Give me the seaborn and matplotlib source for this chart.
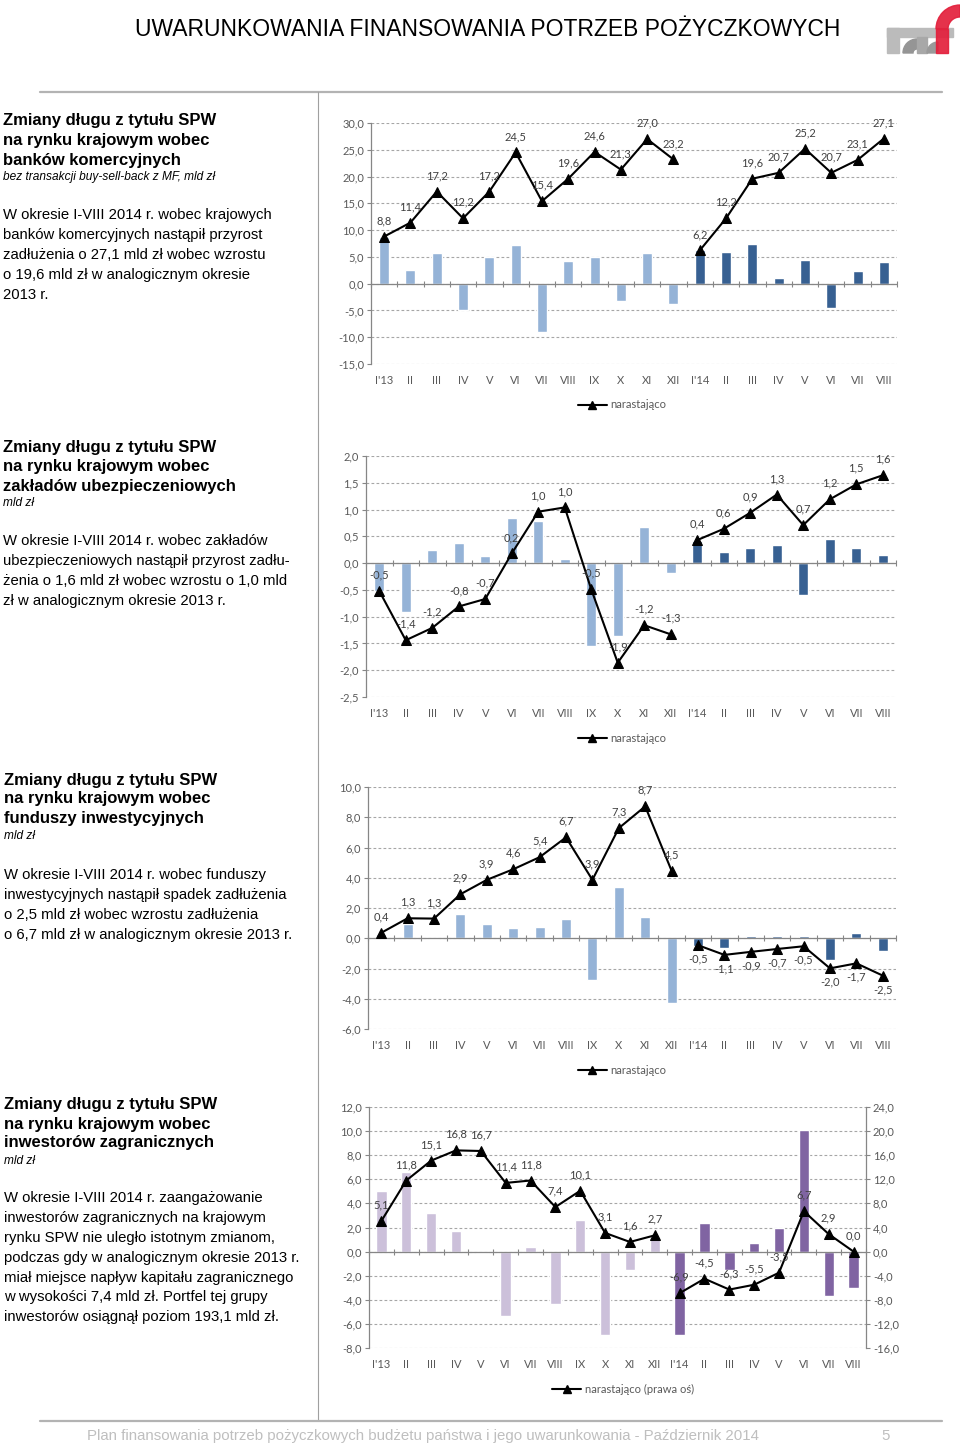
import numpy as np
import pandas as pd
import seaborn as sns
import matplotlib.pyplot as plt
from matplotlib.lines import Line2D
from matplotlib.patches import Rectangle, Wedge
from matplotlib.ticker import FuncFormatter, MultipleLocator

W, H = 960, 1445

months = ["I'13", "II", "III", "IV", "V", "VI", "VII", "VIII", "IX", "X", "XI", "XII",
          "I'14", "II", "III", "IV", "V", "VI", "VII", "VIII"]

# banki komercyjne
banks_m13 = [8.8, 2.6, 5.8, -5.0, 5.0, 7.3, -9.1, 4.2, 5.0, -3.3, 5.7, -3.8]
banks_m14 = [6.2, 6.0, 7.4, 1.1, 4.5, -4.5, 2.4, 4.0]
banks_c13 = [8.8, 11.4, 17.2, 12.2, 17.2, 24.5, 15.4, 19.6, 24.6, 21.3, 27.0, 23.2]
banks_c14 = [6.2, 12.2, 19.6, 20.7, 25.2, 20.7, 23.1, 27.1]

# zaklady ubezpieczeniowe
ins_m13 = [-0.53, -0.91, 0.24, 0.38, 0.13, 0.84, 0.79, 0.08, -1.55, -1.37, 0.67, -0.18]
ins_m14 = [0.42, 0.21, 0.29, 0.34, -0.59, 0.45, 0.28, 0.16]
ins_c13 = [-0.52, -1.44, -1.21, -0.81, -0.67, 0.18, 0.96, 1.04, -0.49, -1.86, -1.16, -1.33]
ins_c14 = [0.43, 0.64, 0.94, 1.28, 0.71, 1.19, 1.47, 1.64]

# fundusze inwestycyjne
inv_m13 = [0.31, 0.95, -0.05, 1.61, 0.95, 0.68, 0.77, 1.26, -2.78, 3.40, 1.43, -4.26]
inv_m14 = [-0.49, -0.62, 0.18, 0.18, 0.18, -1.43, 0.33, -0.82]
inv_c13 = [0.36, 1.32, 1.30, 2.91, 3.86, 4.56, 5.36, 6.67, 3.86, 7.28, 8.72, 4.46]
inv_c14 = [-0.46, -1.10, -0.90, -0.71, -0.53, -1.99, -1.66, -2.47]

# inwestorzy zagraniczni
for_m13 = [5.06, 6.63, 3.18, 1.74, -0.14, -5.33, 0.36, -4.31, 2.62, -6.93, -1.49, 1.05]
for_m14 = [-6.88, 2.40, -1.55, 0.72, 1.99, 10.11, -3.70, -2.98]
for_c13 = [5.1, 11.8, 15.1, 16.8, 16.7, 11.4, 11.8, 7.4, 10.1, 3.1, 1.6, 2.7]
for_c14 = [-6.9, -4.5, -6.3, -5.5, -3.5, 6.7, 2.9, 0.0]

blues = ["#95B3D7", "#376092"]
purples = ["#CCC0DA", "#8064A2"]

AXC = "#868686"
TXC = "#595959"
FS = 8


def rect(l, t, r, b):
    return [l / W, 1 - b / H, (r - l) / W, (b - t) / H]


def comma(v, _=None):
    return f"{v:.1f}".replace(".", ",")


sns.set_style("white")
plt.rcParams['font.family'] = ['Lato', 'DejaVu Sans']

fig = plt.figure(figsize=(W / 100, H / 100), dpi=100)


def style_y(a, ylim, step, side='left'):
    a.set_ylim(*ylim)
    a.yaxis.set_major_locator(MultipleLocator(step))
    a.yaxis.set_major_formatter(FuncFormatter(comma))
    for s in ['top', 'right', 'bottom', 'left']:
        a.spines[s].set_visible(s == side)
    a.spines[side].set_color(AXC)
    a.spines[side].set_linewidth(0.9)
    a.tick_params(axis='y', length=3, width=0.8, color=AXC, labelcolor=TXC,
                  labelsize=FS, pad=2, left=(side == 'left'), right=(side == 'right'),
                  labelleft=(side == 'left'), labelright=(side == 'right'))
    a.set_ylabel('')


def chart(box, m13, m14, c13, c14, ylim, step, colors, legend_y, legend_x=622,
          below14=False, right=None, label='narastająco', barw=0.38):
    ax = fig.add_axes(rect(*box))
    df = pd.DataFrame({'pos': range(20), 'val': m13 + m14,
                       'rok': ['2013'] * 12 + ['2014'] * 8})
    sns.barplot(data=df, x='pos', y='val', hue='rok', palette=colors, width=barw,
                dodge=False, saturation=1, legend=False, ax=ax)
    ax.set_xlim(-0.5, 19.5)
    style_y(ax, ylim, step)
    ax.grid(axis='y', color='#A6A6A6', ls=(0, (2.5, 2)), lw=0.8)
    ax.set_axisbelow(True)
    ax.axhline(0, color=AXC, lw=0.9, zorder=3)
    ax.plot(np.arange(-0.5, 20), np.zeros(21), ls='none', marker='|', ms=5,
            mew=0.8, color=AXC, clip_on=False, zorder=3)
    ax.set_xticks(range(20))
    ax.set_xticklabels(months)
    ax.tick_params(axis='x', length=0, pad=8, labelsize=FS, labelcolor=TXC)
    ax.set_xlabel('')

    lx = ax
    if right is not None:
        lx = ax.twinx()
        style_y(lx, right[0], right[1], side='right')
        lx.grid(False)
    for xs, ys, below in [(range(12), c13, False), (range(12, 20), c14, below14)]:
        sns.lineplot(x=list(xs), y=ys, color='black', lw=1.5, marker='^', ms=7.5,
                     mec='black', ax=lx, zorder=5)
        for x, y in zip(xs, ys):
            lx.annotate(comma(y), (x, y), textcoords='offset points',
                        xytext=(0, -10 if below else 11.5), ha='center', va='center',
                        fontsize=FS, color='#404040', zorder=6)
    lx.set_xlim(-0.5, 19.5)
    handle = Line2D([], [], color='black', lw=1.5, marker='^', ms=6)
    lx.legend(handles=[handle], labels=[label], loc='center',
              bbox_to_anchor=(legend_x / W, 1 - legend_y / H),
              bbox_transform=fig.transFigure, frameon=False, fontsize=FS,
              handlelength=2.6, handletextpad=0.3, labelcolor=TXC)
    return ax


chart((371, 123, 897, 364), banks_m13, banks_m14, banks_c13, banks_c14,
      (-15, 30), 5, blues, 405)
chart((366, 456, 896, 697), ins_m13, ins_m14, ins_c13, ins_c14,
      (-2.5, 2.0), 0.5, blues, 738)
chart((368, 787, 896, 1029), inv_m13, inv_m14, inv_c13, inv_c14,
      (-6, 10), 2, blues, 1070, below14=True)
chart((369, 1107, 866, 1348), for_m13, for_m14, for_c13, for_c14,
      (-8, 12), 2, purples, 1389, legend_x=623, right=((-16, 24), 4),
      label='narastająco (prawa oś)', barw=0.42)

# tekst po lewej stronie
blocks = [
    (3, [120, 140, 160], ["Zmiany długu z tytułu SPW", "na rynku krajowym wobec", "banków komercyjnych"],
     177, "bez transakcji buy-sell-back z MF, mld zł", 215,
     ["W okresie I-VIII 2014 r. wobec krajowych", "banków komercyjnych nastąpił przyrost",
      "zadłużenia o 27,1 mld zł wobec wzrostu", "o 19,6 mld zł w analogicznym okresie", "2013 r."]),
    (3, [447, 466, 486], ["Zmiany długu z tytułu SPW", "na rynku krajowym wobec", "zakładów ubezpieczeniowych"],
     503, "mld zł", 541,
     ["W okresie I-VIII 2014 r. wobec zakładów", "ubezpieczeniowych nastąpił przyrost zadłu-",
      "żenia o 1,6 mld zł wobec wzrostu o 1,0 mld", "zł w analogicznym okresie 2013 r."]),
    (4, [780, 799, 819], ["Zmiany długu z tytułu SPW", "na rynku krajowym wobec", "funduszy inwestycyjnych"],
     836, "mld zł", 875,
     ["W okresie I-VIII 2014 r. wobec funduszy", "inwestycyjnych nastąpił spadek zadłużenia",
      "o 2,5 mld zł wobec wzrostu zadłużenia", "o 6,7 mld zł w analogicznym okresie 2013 r."]),
    (4, [1104, 1124, 1143], ["Zmiany długu z tytułu SPW", "na rynku krajowym wobec", "inwestorów zagranicznych"],
     1161, "mld zł", 1198,
     ["W okresie I-VIII 2014 r. zaangażowanie", "inwestorów zagranicznych na krajowym",
      "rynku SPW nie uległo istotnym zmianom,", "podczas gdy w analogicznym okresie 2013 r.",
      "miał miejsce napływ kapitału zagranicznego", "w wysokości 7,4 mld zł. Portfel tej grupy",
      "inwestorów osiągnął poziom 193,1 mld zł."]),
]
for x0, hy, heads, sy, sub, by, body in blocks:
    for y, s in zip(hy, heads):
        fig.text(x0 / W, 1 - y / H, s, ha='left', va='center', fontsize=12,
                 fontweight='bold', family='Liberation Sans', color='black')
    fig.text(x0 / W, 1 - sy / H, sub, ha='left', va='center', fontsize=8.6,
             style='italic', family='Liberation Sans', color='black')
    for k, s in enumerate(body):
        fig.text(x0 / W, 1 - (by + 19.9 * k) / H, s, ha='left', va='center',
                 fontsize=10.7, family='Liberation Sans', color='black')

# naglowek, linie, stopka
fig.text(488 / W, 1 - 30 / H, "UWARUNKOWANIA FINANSOWANIA POTRZEB POŻYCZKOWYCH",
         ha='center', va='center', fontsize=16.5, family='Liberation Sans', color='black')
for xs, ys, c, lw in [([40, 942], [92, 92], '#B3B3B3', 1.6),
                      ([318, 318], [92, 1421], '#A0A0A0', 0.8),
                      ([40, 942], [1421, 1421], '#B3B3B3', 1.6)]:
    fig.add_artist(Line2D([x / W for x in xs], [1 - y / H for y in ys],
                          color=c, lw=lw, transform=fig.transFigure))
fig.text(423 / W, 1 - 1436 / H,
         "Plan finansowania potrzeb pożyczkowych budżetu państwa i jego uwarunkowania - Październik 2014",
         ha='center', va='center', fontsize=10.8, family='Liberation Sans', color='#BFBFBF')
fig.text(886 / W, 1 - 1436 / H, "5", ha='center', va='center', fontsize=10.8,
         family='Liberation Sans', color='#BFBFBF')

# logo
lg = fig.add_axes(rect(880, 0, 960, 60))
lg.set_xlim(0, 80)
lg.set_ylim(60, 0)
lg.axis('off')
lg.add_patch(Rectangle((7, 28), 66, 9, color='#BBBBBB'))
lg.add_patch(Rectangle((7, 28), 12, 25, color='#BBBBBB'))
lg.add_patch(Wedge((37, 53), 14, 180, 270, width=10, color='#959595'))
lg.add_patch(Rectangle((37, 37), 10, 16, color='#A8A8A8'))
lg.add_patch(Wedge((58, 53), 11, 180, 270, width=9, color='#9A9A9A'))
lg.add_patch(Rectangle((56, 29), 12, 24, color='#E3203C', alpha=0.92))
lg.add_patch(Wedge((80, 29), 24, 180, 270, width=12, color='#E3203C', alpha=0.92))

fig.savefig('out.png', dpi=100)
